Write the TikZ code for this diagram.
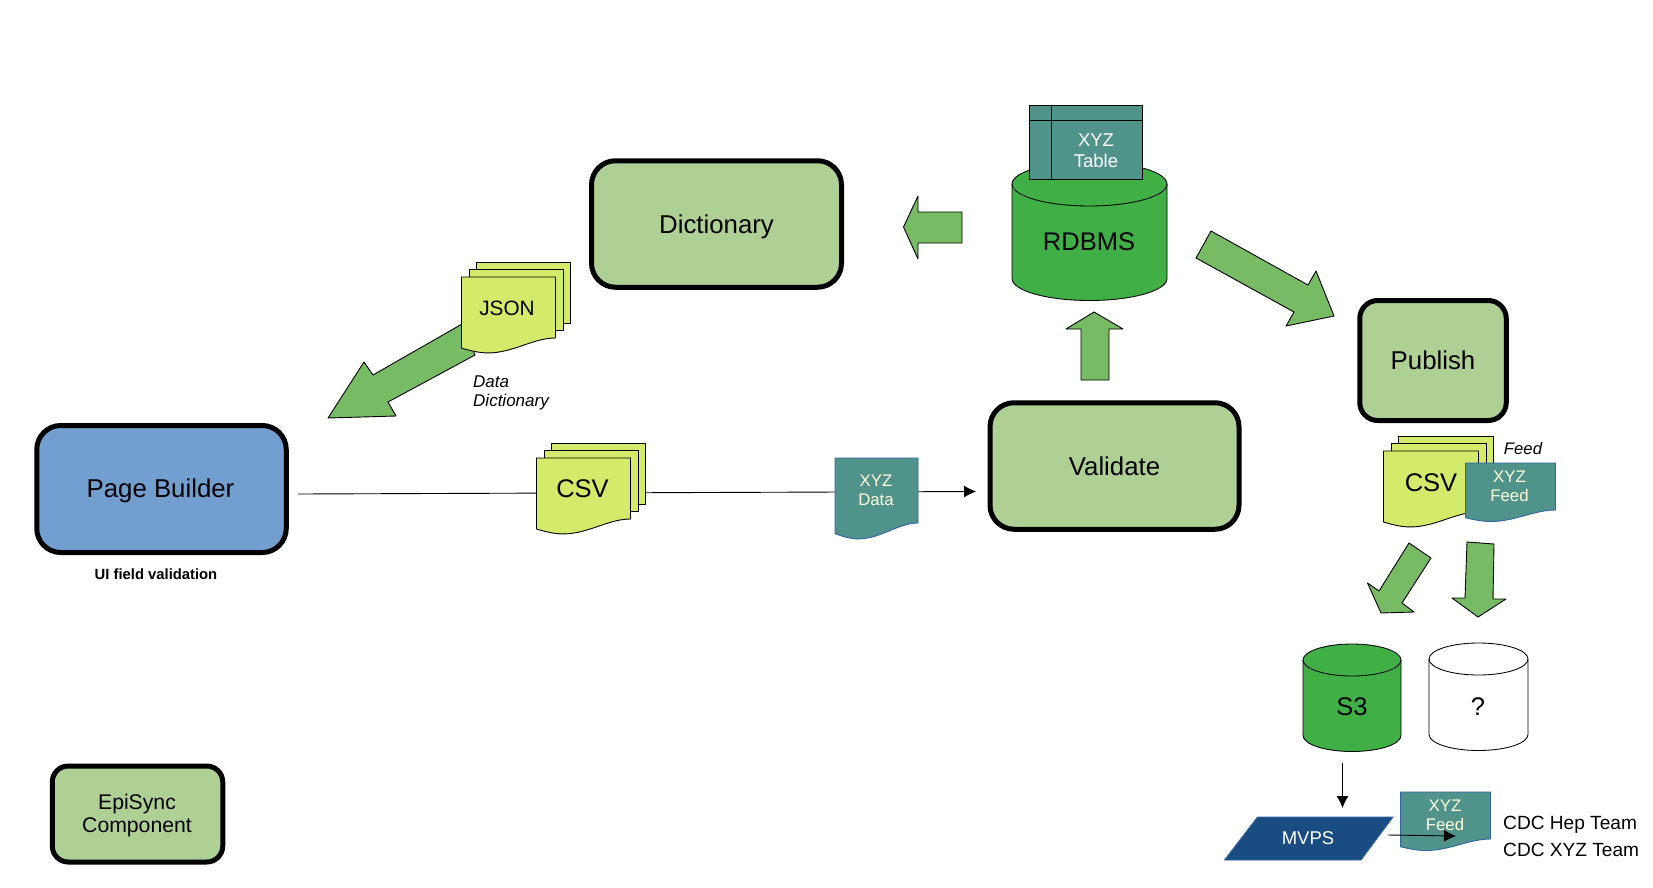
\documentclass[tikz,border=0pt]{standalone}
\usepackage{fontspec}
\setmainfont{Liberation Sans}
\definecolor{boxgreen}{HTML}{AFD095}
\definecolor{boxblue}{HTML}{729FCF}
\definecolor{docyellow}{HTML}{D4EA6B}
\definecolor{docteal}{HTML}{50938A}
\definecolor{arrowgreen}{HTML}{77BC65}
\definecolor{cylgreen}{HTML}{3FAF46}
\definecolor{mvpsblue}{HTML}{194D82}
\definecolor{edgeblue}{HTML}{3465A4}
\definecolor{cream}{HTML}{FFFFD7}
\newcommand{\fs}[2]{\fontsize{#1}{#2}\selectfont}
\usetikzlibrary{arrows.meta}
\tikzset{
  procbox/.style={draw=black,line width=5pt,rounded corners=24pt,inner sep=0pt,align=center,text=black,font=\fs{25.8}{30},text height=18.4pt,text depth=0pt},
  blockarrow/.style={draw=black,line width=0.9pt,fill=arrowgreen,line join=round},
  docfill/.style={draw=black,line width=0.9pt,fill=docyellow},
  tealdoc/.style={draw=edgeblue,line width=0.9pt,fill=docteal},
  flow/.style={draw=black,line width=0.9pt},
  flowtip/.style={flow,-{Latex[length=12pt,width=12pt]}},
  lbl/.style={inner sep=0pt,align=center,text=black},
  biglbl/.style={lbl,font=\fs{25.5}{30},text height=18.4pt,text depth=0pt},
  creamlbl/.style={inner sep=0pt,align=center,text=cream,font=\fs{16.8}{19.5}},
  whitelbl/.style={inner sep=0pt,align=center,text=white},
}
% x, y top, width, height at right edge
\newcommand{\docpath}[5]{%
  \path[#5] (#1,#2) -- ({#1+#3},#2) -- ({#1+#3},{#2+#4})
    .. controls ({#1+0.76*#3},{#2+#4}) and ({#1+0.55*#3},{#2+1.245*#4}) .. ({#1+0.28*#3},{#2+1.245*#4})
    .. controls ({#1+0.18*#3},{#2+1.245*#4}) and ({#1+0.08*#3},{#2+1.2*#4}) .. (#1,{#2+1.165*#4}) -- cycle;}
\newcommand{\stackpath}[4]{%
  \path[docfill] ({#1+15},{#2-15}) rectangle ({#1+15+#3},{#2-15+#4});
  \path[docfill] ({#1+7.5},{#2-7.5}) rectangle ({#1+7.5+#3},{#2-7.5+#4});
  \docpath{#1}{#2}{#3}{#4}{docfill}}
% x1, x2, y mid of top ellipse, y side bottom, ry, fill
\newcommand{\cylpath}[6]{%
  \path[draw=black,line width=0.85pt,fill=#6] (#1,#3) -- (#1,#4)
    .. controls (#1,{#4+0.552*#5}) and ({(#1+#2)/2-0.276*(#2-#1)},{#4+#5}) .. ({(#1+#2)/2},{#4+#5})
    .. controls ({(#1+#2)/2+0.276*(#2-#1)},{#4+#5}) and (#2,{#4+0.552*#5}) .. (#2,#4)
    -- (#2,#3)
    .. controls (#2,{#3-0.552*#5}) and ({(#1+#2)/2+0.276*(#2-#1)},{#3-#5}) .. ({(#1+#2)/2},{#3-#5})
    .. controls ({(#1+#2)/2-0.276*(#2-#1)},{#3-#5}) and (#1,{#3-0.552*#5}) .. (#1,#3) -- cycle;
  \path[draw=black,line width=0.85pt] (#1,#3)
    .. controls (#1,{#3+0.552*#5}) and ({(#1+#2)/2-0.276*(#2-#1)},{#3+#5}) .. ({(#1+#2)/2},{#3+#5})
    .. controls ({(#1+#2)/2+0.276*(#2-#1)},{#3+#5}) and (#2,{#3+0.552*#5}) .. (#2,#3);}
\begin{document}
\begin{tikzpicture}[x=1pt,y=-1pt]
\useasboundingbox[fill=white] (0,0) rectangle (1653,888);

% process boxes
\node[procbox,fill=boxgreen,minimum width=250pt,minimum height=126.5pt] (dict) at (716.5,224) {Dictionary};
\node[procbox,fill=boxblue,minimum width=249.5pt,minimum height=127pt] (pb) at (161.5,489) {};
\node[lbl,font=\fs{25.8}{30},text height=18.4pt,text depth=0pt] (pblbl) at (160.5,488) {Page Builder};
\node[procbox,fill=boxgreen,minimum width=249pt,minimum height=126.5pt] (val) at (1114.5,466) {Validate};
\node[procbox,fill=boxgreen,rounded corners=18pt,minimum width=146.5pt,minimum height=120pt] (pub) at (1433,360.5) {Publish};
\node[procbox,fill=boxgreen,rounded corners=16pt,minimum width=170.5pt,minimum height=96pt] (epi) at (137.5,814) {};
\node[lbl,font=\fs{21.2}{23}] (epilbl) at (137,816) {EpiSync\\Component};
\node[lbl,font=\bfseries\fs{14.8}{16}] (uif) at (156,574.5) {UI field validation};

% block arrows
\draw[blockarrow] (328,418) -- (364,362) -- (373,375) -- (462,324) -- (475,355) -- (388,402) -- (396,416) -- cycle;
\draw[blockarrow] (903.5,227) -- (918,196) -- (918,212) -- (962,212) -- (962,243) -- (918,243) -- (918,259) -- cycle;
\draw[blockarrow] (1211,231) -- (1308,285) -- (1316,271) -- (1334,316) -- (1286,326) -- (1294,312) -- (1196,258) -- cycle;
\draw[blockarrow] (1094,312) -- (1123,329) -- (1109,329) -- (1109,380) -- (1081,380) -- (1081,329) -- (1066,329) -- cycle;
\draw[blockarrow] (1409,543) -- (1431,558) -- (1402,603) -- (1414,612) -- (1381,613) -- (1367.5,583) -- (1379,591) -- cycle;
\draw[blockarrow] (1467,542) -- (1494,544) -- (1493,599) -- (1506,599) -- (1478,617) -- (1452,598) -- (1465,598) -- cycle;

% main flow line
\coordinate (pbout) at (298,494);
\coordinate (valin) at (976,491.5);
\draw[flowtip] (pbout) -- (valin);

% JSON stack
\stackpath{461.5}{277}{94}{61}
\node[lbl,font=\fs{20.8}{24},text height=14.9pt,text depth=0pt] (json) at (507,308) {JSON};
\node[lbl,font=\itshape\fs{17}{19},align=left,anchor=west] (ddict) at (473,393) {Data\\Dictionary};

% CSV stack
\stackpath{536.5}{458}{94}{61}
\node[biglbl] (csv) at (582.5,488.5) {CSV};

% XYZ Data
\docpath{835}{458}{83}{65}{tealdoc}
\node[creamlbl] (xyzdata) at (876,490.5) {XYZ\\Data};

% RDBMS
\cylpath{1012}{1167}{184}{278.5}{22}{cylgreen}
\node[biglbl] (rdbms) at (1089,241.5) {RDBMS};
\path[draw=black,line width=0.85pt,fill=docteal] (1029,105.5) rectangle (1142,179.5);
\draw[line width=0.85pt] (1029,120) -- (1142,120);
\draw[line width=0.85pt] (1051,105.5) -- (1051,179.5);
\node[whitelbl,font=\fs{18.5}{21}] (tbl) at (1096,150.5) {XYZ\\Table};

% Publish CSV + feed
\stackpath{1383.5}{451}{95}{61}
\node[biglbl] (csv2) at (1431,482) {CSV};
\docpath{1465.5}{463}{90}{47}{tealdoc}
\node[creamlbl] (xyzfeed) at (1509.5,486.5) {XYZ\\Feed};
\node[lbl,font=\itshape\fs{16.7}{19}] (feed) at (1523,449) {Feed};

% S3 and ?
\cylpath{1303}{1401}{660}{735.5}{16}{cylgreen}
\node[biglbl] (s3) at (1352,706.5) {S3};
\cylpath{1429}{1528}{659}{734.5}{16}{white}
\node[biglbl] (q) at (1478,706.5) {?};

% MVPS
\path[draw=edgeblue,line width=0.9pt,fill=mvpsblue] (1257.5,817) -- (1393,817) -- (1361,860) -- (1224.5,860) -- cycle;
\node[whitelbl,font=\fs{18.5}{21},text height=13.4pt,text depth=0pt] (mvps) at (1308,838) {MVPS};
\coordinate (s3out) at (1342.5,763);
\coordinate (mvpsin) at (1342.5,808);
\draw[flowtip] (s3out) -- (mvpsin);

% bottom feed
\docpath{1400.5}{792}{90}{47}{tealdoc}
\node[creamlbl] (xyzfeedb) at (1445,815.5) {XYZ\\Feed};
\coordinate (mvpsout) at (1388,835);
\coordinate (feedin) at (1456,836);
\draw[flowtip] (mvpsout) -- (feedin);

% recipients
\node[lbl,font=\fs{19.1}{27},align=left,anchor=west] (cdc) at (1503,836.5) {CDC Hep Team\\CDC XYZ Team};
\end{tikzpicture}
\end{document}
